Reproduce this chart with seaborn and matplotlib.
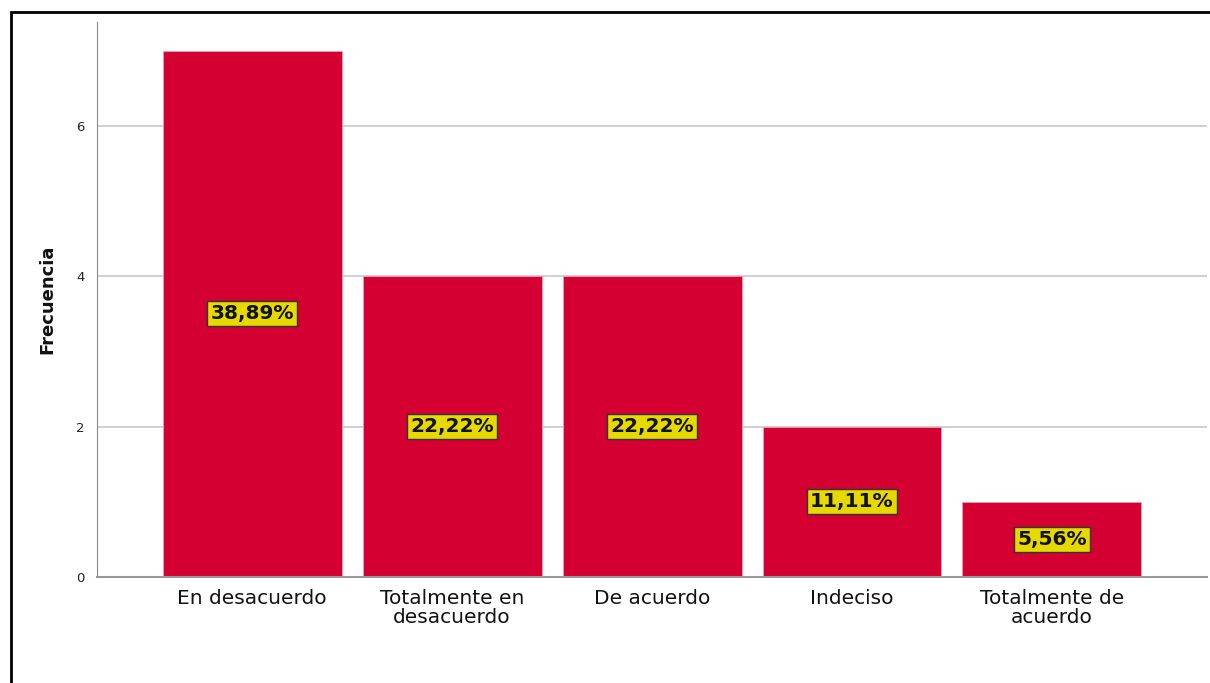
import numpy as np
import pandas as pd
import matplotlib
matplotlib.use("Agg")
import matplotlib.pyplot as plt
import seaborn as sns
from matplotlib.patches import Rectangle

# data
categorias = ["En desacuerdo", "Totalmente en\ndesacuerdo", "De acuerdo",
              "Indeciso", "Totalmente de\nacuerdo"]
frecuencia = [7, 4, 4, 2, 1]
porcentajes = ["38,89%", "22,22%", "22,22%", "11,11%", "5,56%"]

df = pd.DataFrame({"cat": categorias, "n": frecuencia})

sns.set_style("white")
plt.rcParams['font.family'] = ['DejaVu Sans']

fig = plt.figure(figsize=(12.1, 6.83), dpi=100)
ax = fig.add_axes([0.0802, 0.1552, 0.9173, 0.8126])

# bars
sns.barplot(data=df, x="cat", y="n", color="#d50032", saturation=1,
            width=0.895, edgecolor="#f0a0b0", linewidth=0.6, ax=ax, zorder=2)

# percentage labels in yellow boxes at mid-height
for i, (v, p) in enumerate(zip(frecuencia, porcentajes)):
    ax.text(i, v / 2, p, ha="center", va="center", fontsize=14.5, fontweight="bold",
            color="#111111", zorder=4,
            bbox=dict(boxstyle="square,pad=0.15", facecolor="#e6d900",
                      edgecolor="#333333", linewidth=1))

# axes styling
ax.set_xlim(-0.775, 4.775)
ax.set_ylim(0, 7.38)
ax.set_yticks([0, 2, 4, 6])
ax.yaxis.grid(True, color="#c8c8c8", linewidth=1.2, zorder=0)
ax.set_axisbelow(True)
for s in ["top", "right"]:
    ax.spines[s].set_visible(False)
ax.spines["left"].set_color("#888888")
ax.spines["bottom"].set_color("#999999")
ax.spines["bottom"].set_linewidth(1.5)
ax.tick_params(axis="y", length=0, labelsize=9.5, pad=9, labelcolor="#222222")
ax.tick_params(axis="x", length=0, labelsize=14.5, pad=9, labelcolor="#111111")
for t in ax.get_xticklabels():
    t.set_linespacing(0.95)
ax.set_xlabel("")
ax.set_ylabel("Frecuencia", fontsize=13, fontweight="bold", labelpad=14, color="#111111")

# outer frame (top and left edges visible)
fig.patches.append(Rectangle((11 / 1210, -0.1), 1.2, 1 - 12 / 683 + 0.1,
                             transform=fig.transFigure, fill=False,
                             edgecolor="black", linewidth=2))

fig.savefig("out.png", dpi=100)
